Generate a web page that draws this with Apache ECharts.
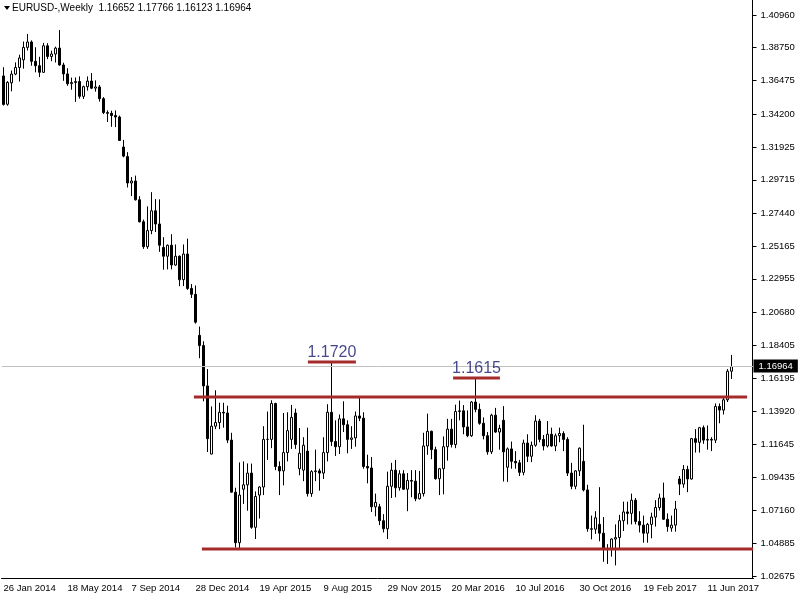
<!DOCTYPE html>
<html><head><meta charset="utf-8">
<script src="https://cdn.jsdelivr.net/npm/echarts@6/dist/echarts.min.js"></script>
<style>html,body{margin:0;padding:0;background:#fff}#c{width:800px;height:600px}</style>
</head><body><div id="c"></div>
<script>
// Weekly EURUSD candles, first week = 26 Jan 2014
const opens=[
1.3680,1.3487,1.3633,1.3693,1.3738,1.3790,1.3875,1.3912,1.3780,1.3750,
1.3705,1.3886,1.3813,1.3830,1.3870,1.3755,1.3694,1.3627,1.3635,1.3642,
1.3541,1.3607,1.3645,1.3597,1.3605,1.3525,1.3430,1.3425,1.3410,1.3400,
1.3195,1.3130,1.2950,1.2963,1.2835,1.2685,1.2515,1.2625,1.2760,1.2670,
1.2510,1.2450,1.2525,1.2390,1.2450,1.2290,1.2465,1.2230,1.2190,1.1910,
1.1840,1.1565,1.1100,1.1290,1.1315,1.1385,1.1380,1.1195,1.0840,1.0495,
1.0860,1.0890,1.0970,1.0600,1.0820,1.0875,1.1200,1.1200,1.1445,1.1015,
1.0985,1.1110,1.1200,1.1380,1.1000,1.0990,1.1120,1.0830,1.0980,1.0985,
1.0970,1.1110,1.1385,1.1185,1.1150,1.1340,1.1300,1.1200,1.1210,1.1360,
1.1345,1.1015,1.1005,1.0740,1.0740,1.0645,1.0590,1.0880,1.0990,1.0870,
1.0965,1.0860,1.0920,1.0915,1.0795,1.0830,1.1155,1.1255,1.1130,1.0932,
1.1000,1.1150,1.1270,1.1165,1.1390,1.1395,1.1285,1.1225,1.1455,1.1405,
1.1310,1.1225,1.1115,1.1365,1.1250,1.1330,1.1010,1.1135,1.1050,1.1040,
1.0975,1.1175,1.1085,1.1160,1.1325,1.1200,1.1155,1.1235,1.1155,1.1225,
1.1240,1.1200,1.0970,1.0880,1.0985,1.1050,1.0855,1.0590,1.0587,1.0620,
1.0560,1.0450,1.0455,1.0520,1.0530,1.0645,1.0705,1.0695,1.0785,1.0640,
1.0615,1.0560,1.0620,1.0670,1.0735,1.0800,1.0655,1.0595,1.0615,1.0930,
1.0895,1.0995,1.0930,1.1205,1.1180,1.1280,1.1195,1.1200,1.1195,1.1425,
1.1400,1.1470,1.16652];
const highs=[
1.3740,1.3645,1.3717,1.3773,1.3825,1.3915,1.3967,1.3923,1.3876,1.3811,
1.3906,1.3904,1.3852,1.3880,1.3993,1.3770,1.3733,1.3669,1.3670,1.3677,
1.3614,1.3677,1.3700,1.3650,1.3618,1.3536,1.3445,1.3443,1.3445,1.3410,
1.3244,1.3160,1.2990,1.3000,1.2860,1.2700,1.2790,1.2887,1.2840,1.2838,
1.2580,1.2530,1.2600,1.2530,1.2455,1.2530,1.2570,1.2260,1.2250,1.1970,
1.1870,1.1680,1.1425,1.1535,1.1450,1.1450,1.1430,1.1245,1.0870,1.1043,
1.1050,1.1036,1.1035,1.0845,1.0880,1.1290,1.1390,1.1467,1.1450,1.1050,
1.1380,1.1385,1.1435,1.1410,1.1278,1.1215,1.1280,1.0990,1.1130,1.1000,
1.1215,1.1440,1.1714,1.1330,1.1370,1.1460,1.1330,1.1290,1.1390,1.1495,
1.1385,1.1095,1.1080,1.0830,1.0760,1.0690,1.0980,1.1040,1.1060,1.0990,
1.0990,1.0970,1.0990,1.0990,1.0985,1.1245,1.1376,1.1260,1.1150,1.1005,
1.1220,1.1340,1.1340,1.1437,1.1465,1.1434,1.1398,1.1462,1.1616,1.1445,
1.1350,1.1250,1.1375,1.1415,1.1300,1.1427,1.1145,1.1185,1.1120,1.1060,
1.1198,1.1235,1.1185,1.1365,1.1340,1.1230,1.1325,1.1280,1.1240,1.1280,
1.1255,1.1215,1.1040,1.0990,1.1145,1.1300,1.0890,1.0680,1.0710,1.0874,
1.0670,1.0485,1.0525,1.0620,1.0685,1.0775,1.0775,1.0830,1.0800,1.0710,
1.0680,1.0630,1.0700,1.0785,1.0830,1.0905,1.0695,1.0680,1.0780,1.0950,
1.1025,1.1020,1.1210,1.1270,1.1285,1.1295,1.1295,1.1215,1.1445,1.1445,
1.1490,1.1680,1.17766];
const lows=[
1.3478,1.3477,1.3575,1.3685,1.3642,1.3730,1.3854,1.3750,1.3705,1.3672,
1.3700,1.3795,1.3781,1.3772,1.3750,1.3647,1.3613,1.3586,1.3503,1.3525,
1.3523,1.3580,1.3590,1.3573,1.3505,1.3420,1.3366,1.3333,1.3331,1.3240,
1.3125,1.2919,1.2860,1.2830,1.2680,1.2500,1.2500,1.2600,1.2615,1.2480,
1.2358,1.2360,1.2360,1.2385,1.2245,1.2246,1.2220,1.2165,1.1990,1.1754,
1.1460,1.1114,1.1098,1.1270,1.1270,1.1280,1.1175,1.0837,1.0462,1.0455,
1.0760,1.0713,1.0590,1.0520,1.0660,1.0820,1.1060,1.1140,1.0990,1.0820,
1.0886,1.1050,1.1135,1.1135,1.0955,1.0915,1.0810,1.0808,1.0915,1.0850,
1.0930,1.1050,1.1155,1.1087,1.1100,1.1250,1.1105,1.1135,1.1150,1.1325,
1.1000,1.0900,1.0705,1.0675,1.0615,1.0565,1.0520,1.0800,1.0805,1.0850,
1.0855,1.0710,1.0805,1.0778,1.0790,1.0810,1.1095,1.1065,1.0925,1.0820,
1.0825,1.1055,1.1145,1.1140,1.1330,1.1235,1.1215,1.1217,1.1385,1.1300,
1.1200,1.1095,1.1100,1.1245,1.1130,1.0912,1.0910,1.1000,1.1000,1.0950,
1.0955,1.1045,1.1045,1.1150,1.1180,1.1125,1.1145,1.1150,1.1120,1.1180,
1.1120,1.0950,1.0860,1.0860,1.0950,1.0845,1.0570,1.0518,1.0555,1.0505,
1.0365,1.0350,1.0400,1.0340,1.0455,1.0575,1.0620,1.0620,1.0620,1.0565,
1.0495,1.0495,1.0525,1.0605,1.0715,1.0650,1.0570,1.0570,1.0570,1.0820,
1.0870,1.0840,1.0925,1.1110,1.1110,1.1170,1.1130,1.1120,1.1175,1.1310,
1.1370,1.1455,1.16123];
const closes=[
1.3486,1.3636,1.3693,1.3738,1.3803,1.3875,1.3912,1.3780,1.3750,1.3705,
1.3886,1.3813,1.3830,1.3870,1.3755,1.3694,1.3627,1.3635,1.3642,1.3541,
1.3607,1.3645,1.3597,1.3605,1.3525,1.3430,1.3425,1.3410,1.3400,1.3240,
1.3133,1.2950,1.2963,1.2835,1.2685,1.2515,1.2625,1.2760,1.2670,1.2525,
1.2450,1.2525,1.2390,1.2450,1.2290,1.2465,1.2230,1.2190,1.2000,1.1840,
1.1565,1.1205,1.1290,1.1315,1.1385,1.1380,1.1195,1.0840,1.0495,1.0820,
1.0890,1.0970,1.0600,1.0810,1.0875,1.1200,1.1200,1.1445,1.1015,1.0985,
1.1110,1.1260,1.1350,1.1165,1.1105,1.1160,1.0830,1.0980,1.0985,1.0970,
1.1110,1.1385,1.1185,1.1150,1.1340,1.1300,1.1200,1.1210,1.1360,1.1345,
1.1015,1.1005,1.0740,1.0770,1.0645,1.0590,1.0880,1.0990,1.0870,1.0965,
1.0860,1.0920,1.0915,1.0795,1.0830,1.1155,1.1255,1.1130,1.0932,1.1000,
1.1150,1.1270,1.1165,1.1390,1.1395,1.1285,1.1225,1.1455,1.1405,1.1310,
1.1225,1.1115,1.1365,1.1250,1.1275,1.1115,1.1135,1.1050,1.1040,1.0975,
1.1175,1.1085,1.1160,1.1325,1.1200,1.1155,1.1235,1.1155,1.1225,1.1240,
1.1200,1.0970,1.0880,1.0985,1.1140,1.0855,1.0590,1.0587,1.0665,1.0560,
1.0450,1.0455,1.0520,1.0530,1.0645,1.0705,1.0695,1.0785,1.0640,1.0615,
1.0560,1.0620,1.0670,1.0735,1.0800,1.0655,1.0605,1.0615,1.0725,1.0895,
1.0995,1.0930,1.1205,1.1180,1.1280,1.1195,1.1200,1.1195,1.1425,1.1400,
1.1470,1.1665,1.16964];

// price-axis tick labels
const yTicks=[1.40960,1.38750,1.36475,1.34200,1.31925,1.29715,1.27440,1.25165,1.22955,
1.20680,1.18405,1.16195,1.13920,1.11645,1.09435,1.07160,1.04885,1.02675];

// drawn levels (price) and their extents in week-index units
const resistanceLevel=1.14892, resistanceSpan=[47.6,185.9];
const supportLevel=1.04520, supportSpan=[49.6,187.4];
const peaks=[
 {text:'1.1720', level:1.17281, week:82, span:[76.1,88.1]},
 {text:'1.1615', level:1.16189, week:118, span:[112.4,124.1]}
];

const N_CATS=188;           // weeks on the time axis (incl. empty space on the right)
const LABEL_EVERY=16;
const MON=['Jan','Feb','Mar','Apr','May','Jun','Jul','Aug','Sep','Oct','Nov','Dec'];
const weeks=[];
const t0=Date.UTC(2014,0,26);
for(let i=0;i<N_CATS;i++){weeks.push(new Date(t0+i*7*86400000).toISOString().slice(0,10));}
function fmtDate(s){const p=s.split('-');return (+p[2])+' '+MON[+p[1]-1]+' '+p[0];}

const candles=opens.map((o,i)=>[o,closes[i],lows[i],highs[i]]);
const last=opens.length-1;
const current=closes[last];

const FONT='"Liberation Sans", Arial, sans-serif';
const RED='#a52a2a';
const NAVY='#16166e';

const chart=echarts.init(document.getElementById('c'),null,{renderer:'canvas'});
const showIdx=(i)=> i%LABEL_EVERY===0 && i<=last;

const series=[{
  type:'candlestick', name:'EURUSD', xAxisIndex:0, yAxisIndex:0,
  data:candles, barWidth:2,
  itemStyle:{color:'#ffffff',color0:'#000000',borderColor:'#000000',borderColor0:'#000000',borderWidth:1},
  emphasis:{disabled:true},
  markLine:{silent:true,symbol:['none','none'],animation:false,
    lineStyle:{color:'#c0c0c0',width:1,type:'solid'},
    label:{show:true,position:'end',distance:0,formatter:current.toFixed(5),
      backgroundColor:'#000',color:'#fff',padding:[2,5,1,5],fontSize:9.5,fontFamily:FONT},
    emphasis:{disabled:true},
    data:[{yAxis:current}]},
  z:2
}];
function seg(data,color,width,z){
  return {type:'line',xAxisIndex:1,yAxisIndex:0,data:data,symbol:'none',silent:true,
    lineStyle:{color:color,width:width},emphasis:{disabled:true},z:z,animation:false};
}
series.push(seg([[resistanceSpan[0],resistanceLevel],[resistanceSpan[1],resistanceLevel]],RED,3,5));
series.push(seg([[supportSpan[0],supportLevel],[supportSpan[1],supportLevel]],RED,3,5));
peaks.forEach(p=>{
  series.push(seg([[p.week,p.level],[p.week,resistanceLevel]],'#000',1,4));
  series.push(seg([[p.span[0],p.level],[p.span[1],p.level]],RED,3,5));
});
series.push({type:'scatter',xAxisIndex:1,yAxisIndex:0,symbolSize:0,silent:true,
  data:peaks.map(p=>({value:[(p.span[0]+p.span[1])/2,p.level],name:p.text})),
  label:{show:true,position:'top',distance:1,formatter:(d)=>d.name,fontSize:16,color:NAVY,fontFamily:FONT},
  z:6});

const option={
  animation:false,
  backgroundColor:'#ffffff',
  grid:{left:1.5,top:0,width:752,height:578,containLabel:false},
  xAxis:[{
    type:'category',data:weeks,boundaryGap:true,
    axisLine:{show:true,onZero:false,lineStyle:{color:'#000',width:1}},
    axisTick:{show:false},
    axisLabel:{show:true,interval:(i)=>showIdx(i),formatter:(v)=>fmtDate(v),align:'left',
      margin:5,fontSize:9.5,color:'#000',fontFamily:FONT},
    splitLine:{show:false}
  },{
    type:'value',min:-0.5,max:N_CATS-0.5,show:false,axisLine:{onZero:false}
  }],
  yAxis:[{
    type:'value',position:'right',offset:-1,min:1.02541,max:1.41984,scale:true,
    axisLine:{show:true,onZero:false,lineStyle:{color:'#000',width:1}},
    axisTick:{show:true,inside:false,length:4,customValues:yTicks,lineStyle:{color:'#000'}},
    axisLabel:{show:true,customValues:yTicks,formatter:(v)=>v.toFixed(5),margin:8,
      fontSize:9.5,color:'#000',fontFamily:FONT},
    splitLine:{show:false}
  }],
  graphic:[
    {type:'polygon',shape:{points:[[4,6],[10,6],[7,10]]},style:{fill:'#000'}},
    {type:'text',left:12,top:3,style:{
      text:'EURUSD-,Weekly  '+[opens[last],highs[last],lows[last],closes[last]].map(v=>v.toFixed(5)).join(' '),
      fill:'#000',fontSize:10,fontFamily:FONT}}
  ],
  series:series
};
chart.setOption(option);
</script></body></html>
